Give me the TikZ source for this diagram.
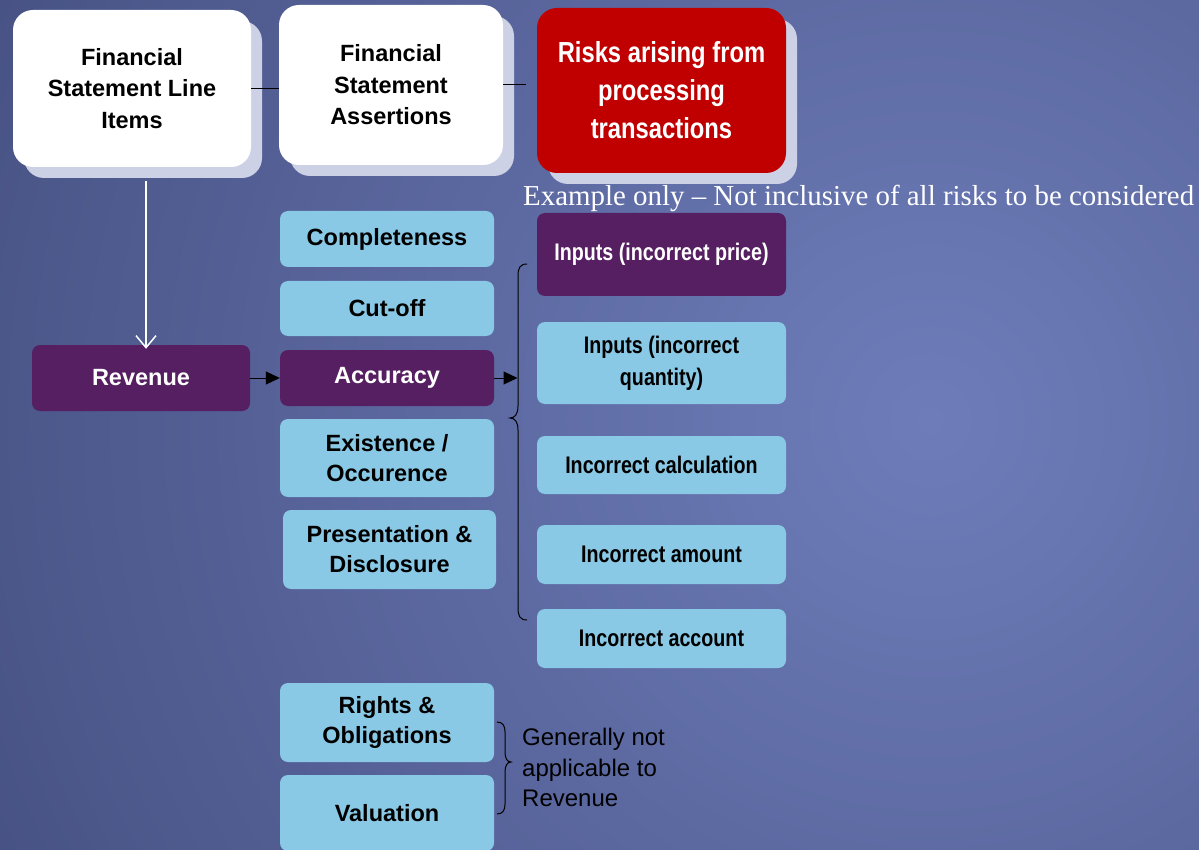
\documentclass[tikz,border=0pt]{standalone}
\usepackage{fontspec}
\setmainfont{Liberation Sans}
\newfontfamily\narrowfont[FakeStretch=0.82]{Liberation Sans}
\newfontfamily\exfont{Liberation Serif}
\usetikzlibrary{arrows.meta,calc,shadows}
\definecolor{bgdark}{HTML}{343C68}
\definecolor{bglight}{HTML}{6E7DBA}
\definecolor{lblue}{HTML}{89C9E5}
\definecolor{dpurple}{HTML}{561F61}
\definecolor{dred}{HTML}{C00000}
\definecolor{shadowc}{HTML}{CDD1E5}
\tikzset{
  topbox/.style={rounded corners=20pt, inner sep=0pt, align=center,
    drop shadow={shadow xshift=11pt, shadow yshift=-11pt, fill=shadowc, opacity=1},
    font=\bfseries\fontsize{23.5}{31.5}\selectfont},
  asbox/.style={rounded corners=8pt, fill=lblue, inner sep=0pt, align=center,
    minimum width=214pt, font=\bfseries\fontsize{23.5}{30}\selectfont},
  rkbox/.style={rounded corners=8pt, fill=lblue, inner sep=0pt, align=center,
    minimum width=249pt, font=\narrowfont\bfseries\fontsize{24}{32}\selectfont},
  hl/.style={fill=dpurple, text=white},
  conn/.style={black, line width=1pt},
  tri/.style={conn, -{Triangle[length=14pt, width=13pt]}},
}
\begin{document}
\begin{tikzpicture}[x=1pt,y=-1pt]
\useasboundingbox (0,0) rectangle (1199,850);
\begin{scope}
\clip (0,0) rectangle (1199,850);
\shade[inner color=bglight, outer color=bgdark] (930,420) circle (1560);
\end{scope}

% top row
\node[topbox, fill=white, minimum width=238pt, minimum height=157pt] (fsli) at (132,88.5)
  {Financial\\Statement Line\\Items};
\node[topbox, fill=white, minimum width=224pt, minimum height=160pt] (fsa) at (391,85)
  {Financial\\Statement\\Assertions};
\node[topbox, fill=dred, text=white, minimum width=249pt, minimum height=165pt,
  font=\narrowfont\bfseries\fontsize{29}{38}\selectfont] (risk) at (661.5,90.5)
  {Risks arising from\\processing\\transactions};
\coordinate (rl) at (526,85);
\draw[conn] (fsli.east) -- (fsli.east -| fsa.west);
\draw[conn] (fsa.east) -- (rl);

\node[text=white, anchor=west, inner sep=0pt, font=\exfont\fontsize{28.9}{30}\selectfont] (ex) at (523,198)
  {Example only \textendash{} Not inclusive of all risks to be considered};

% revenue
\node[asbox, hl, minimum width=218pt, minimum height=66pt] (rev) at (141,378) {Revenue};
\coordinate (a0) at (146,181);
\draw[white, line width=1.5pt, -{Straight Barb[length=12pt, width=20pt]}] (a0) -- ($(a0 |- rev.north)+(0,4)$);

% assertions
\node[asbox, minimum height=56pt] (comp) at (387,239) {Completeness};
\node[asbox, minimum height=55pt] (cut) at (387,308.5) {Cut-off};
\node[asbox, hl, minimum height=56pt] (acc) at (387,378) {Accuracy};
\node[asbox, minimum height=78pt] (exi) at (387,458) {Existence /\\Occurence};
\node[asbox, minimum width=213pt, minimum height=79pt] (pres) at (389.5,549.5) {Presentation \&\\Disclosure};
\node[asbox, minimum height=79pt] (rights) at (387,722.5) {Rights \&\\Obligations};
\node[asbox, minimum height=76pt] (val) at (387,813) {Valuation};

\draw[tri] (rev.east) -- (acc.west);
\coordinate (b1) at (517.5,378);
\draw[tri] (acc.east) -- (b1);

% risks list
\node[rkbox, hl, minimum height=83pt, text=white] (price) at (661.5,254.5) {Inputs (incorrect price)};
\node[rkbox, minimum height=82pt] (qty) at (661.5,363) {Inputs (incorrect\\quantity)};
\node[rkbox, minimum height=58pt] (calc) at (661.5,465) {Incorrect calculation};
\node[rkbox, minimum height=59pt] (amt) at (661.5,554.5) {Incorrect amount};
\node[rkbox, minimum height=59pt] (acct) at (661.5,638.5) {Incorrect account};

% brace 1
\draw[conn] (527,264) .. controls (520,264) and (518,268) .. (518,276) -- (518,406)
  .. controls (518,414) and (515,418) .. (510,418)
  .. controls (515,418) and (518,422) .. (518,430) -- (518,608)
  .. controls (518,616) and (520,620) .. (527,620);

% brace 2
\draw[conn] (497,722) .. controls (503,722) and (505,726) .. (505,732) -- (505,752)
  .. controls (505,758) and (507,762) .. (511,762)
  .. controls (507,762) and (505,766) .. (505,772) -- (505,804)
  .. controls (505,810) and (503,814) .. (497,814);

\node[anchor=west, align=left, inner sep=0pt, font=\fontsize{24}{30.5}\selectfont] (gen) at (522,767.5)
  {Generally not\\applicable to\\Revenue};
\end{tikzpicture}
\end{document}
